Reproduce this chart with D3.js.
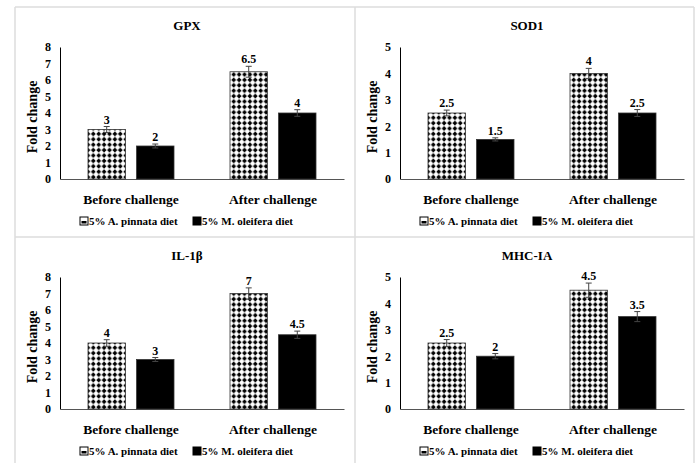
<!DOCTYPE html>
<html>
<head>
<meta charset="utf-8">
<script src="https://cdn.jsdelivr.net/npm/d3@7"></script>
<style>
  body { margin: 0; background: #fff; }
  svg { display: block; }
  svg text { font-family: "Liberation Serif", "Times New Roman", serif; font-weight: bold; }
</style>
</head>
<body>
<svg id="chart" width="699" height="463"></svg>
<script>
// data
const categories = ["Before challenge", "After challenge"];
const series = ["5% A. pinnata diet", "5% M. oleifera diet"];

const gpxValues = [[3, 6.5], [2, 4]];
const gpxErrors = [[0.18, 0.33], [0.12, 0.2]];
const sodValues = [[2.5, 4], [1.5, 2.5]];
const sodErrors = [[0.11, 0.19], [0.06, 0.13]];
const ilValues = [[4, 7], [3, 4.5]];
const ilErrors = [[0.2, 0.34], [0.12, 0.22]];
const mhcValues = [[2.5, 4.5], [2, 3.5]];
const mhcErrors = [[0.13, 0.27], [0.1, 0.19]];

const panels = [
  { title: "GPX", max: 8, values: gpxValues, errors: gpxErrors, x: 15, y: 7 },
  { title: "SOD1", max: 5, values: sodValues, errors: sodErrors, x: 355, y: 7 },
  { title: "IL-1β", max: 8, values: ilValues, errors: ilErrors, x: 15, y: 237 },
  { title: "MHC-IA", max: 5, values: mhcValues, errors: mhcErrors, x: 355, y: 237 }
];

const svg = d3.select("#chart");

// checker pattern for the pinnata bars
const defs = svg.append("defs");
const pat = defs.append("pattern")
  .attr("id", "dots")
  .attr("patternUnits", "userSpaceOnUse")
  .attr("width", 5.4).attr("height", 5.4);
pat.append("rect").attr("width", 5.4).attr("height", 5.4).attr("fill", "#fff");
pat.append("path")
  .attr("d", "M2.7,0.3 L5.1,2.7 L2.7,5.1 L0.3,2.7 Z")
  .attr("fill", "#000");

const fills = ["url(#dots)", "#000"];

// panel frame lines
const frame = svg.append("g").attr("stroke", "#dcdcdc").attr("stroke-width", 1.5);
frame.append("line").attr("x1", 15).attr("x2", 15).attr("y1", 7).attr("y2", 463);
frame.append("line").attr("x1", 694).attr("x2", 694).attr("y1", 7).attr("y2", 463);
frame.append("line").attr("x1", 15).attr("x2", 694).attr("y1", 7).attr("y2", 7);
frame.append("line").attr("x1", 15).attr("x2", 694).attr("y1", 237).attr("y2", 237);
frame.append("line").attr("x1", 355).attr("x2", 355).attr("y1", 7).attr("y2", 463);

const plotL = 45, plotR = 329, plotT = 40, plotB = 172;

panels.forEach(p => {
  const g = svg.append("g").attr("transform", `translate(${p.x},${p.y})`);

  const x0 = d3.scaleBand().domain(categories).range([plotL, plotR]);
  const x1 = d3.scaleBand().domain(series).range([0, 86]).paddingInner(0.23);
  const y = d3.scaleLinear().domain([0, p.max]).range([plotB, plotT]);

  g.append("text")
    .attr("x", 172).attr("y", 23)
    .attr("text-anchor", "middle")
    .attr("font-size", 13)
    .text(p.title);

  // y axis
  const yAxis = g.append("g")
    .attr("transform", `translate(${plotL},0)`)
    .call(d3.axisLeft(y).ticks(p.max).tickSize(0).tickPadding(9).tickFormat(d3.format("d")));
  yAxis.attr("font-family", null);
  yAxis.select(".domain").attr("stroke", "#000").attr("stroke-width", 1);
  yAxis.selectAll("text")
    .attr("font-size", 12)
    .attr("fill", "#000");

  g.append("text")
    .attr("transform", `translate(22,${(plotT + plotB) / 2 + 4}) rotate(-90)`)
    .attr("text-anchor", "middle")
    .attr("font-size", 14)
    .text("Fold change");

  // x axis
  const xAxis = g.append("g")
    .attr("transform", `translate(0,${plotB})`)
    .call(d3.axisBottom(x0).tickSize(0).tickPadding(15));
  xAxis.attr("font-family", null);
  xAxis.select(".domain").attr("stroke", "#555").attr("stroke-width", 1);
  xAxis.selectAll("text")
    .attr("font-size", 13.5)
    .attr("fill", "#000");

  // bars
  series.forEach((s, si) => {
    categories.forEach((c, ci) => {
      const v = p.values[si][ci];
      const e = p.errors[si][ci];
      const bx = x0(c) + (x0.bandwidth() - 86) / 2 + x1(s);
      const cx = bx + x1.bandwidth() / 2;
      g.append("rect")
        .attr("x", bx).attr("y", y(v))
        .attr("width", x1.bandwidth()).attr("height", plotB - y(v))
        .attr("fill", fills[si])
        .attr("stroke", "#333").attr("stroke-width", 0.8);
      const eb = g.append("g").attr("stroke", "#444").attr("stroke-width", 1);
      eb.append("line").attr("x1", cx).attr("x2", cx).attr("y1", y(v - e)).attr("y2", y(v + e));
      eb.append("line").attr("x1", cx - 3).attr("x2", cx + 3).attr("y1", y(v + e)).attr("y2", y(v + e));
      eb.append("line").attr("x1", cx - 3).attr("x2", cx + 3).attr("y1", y(v - e)).attr("y2", y(v - e));
      g.append("text")
        .attr("x", cx).attr("y", y(v + e) - 3)
        .attr("text-anchor", "middle")
        .attr("font-size", 12)
        .text(v);
    });
  });

  // legend
  const legX = [65, 178];
  series.forEach((s, si) => {
    const lg = g.append("g").attr("transform", `translate(${legX[si]},214)`);
    lg.append("rect")
      .attr("x", 0).attr("y", -4).attr("width", 8).attr("height", 8)
      .attr("fill", si === 0 ? "#fff" : "#000")
      .attr("stroke", "#000").attr("stroke-width", 1);
    if (si === 0) {
      lg.append("rect").attr("x", 1.5).attr("y", 0).attr("width", 5).attr("height", 2.5).attr("fill", "#000");
    }
    lg.append("text")
      .attr("x", 9).attr("y", 4)
      .attr("font-size", 11)
      .text(s);
  });
});
</script>
</body>
</html>
